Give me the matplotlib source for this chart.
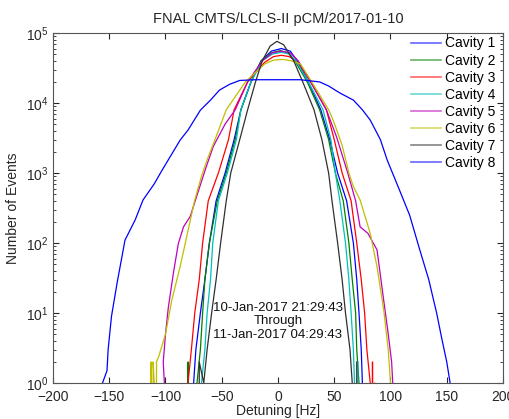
import matplotlib
matplotlib.use("Agg")
import matplotlib.pyplot as plt

plt.rcParams['font.family'] = ['Liberation Sans', 'DejaVu Sans']

# ---------------------------------------------------------------------------
# Data (detuning in Hz, number of events)
# ---------------------------------------------------------------------------
c1_x = [-75, -73, -69, -65, -61, -55, -47, -39, -33, -24, -15, -6, 3, 11, 17, 27, 38, 46, 53, 61, 67, 70, 72, 74, 75]
c1_n = [1, 3, 10, 30, 100, 400, 1000, 3000, 8000, 20000, 40000, 55000, 60000, 55000, 40000, 20000, 8000, 3000, 1000, 400, 100, 30, 10, 3, 1]

c2_x = [-82, -80, -78, -72, -69, -67, -65, -61, -54, -46, -38, -33, -24, -15, -6, 2, 9, 15, 26, 37, 45, 51, 58, 63, 66, 69, 70, 72]
c2_n = [0, 2, 0, 1, 3, 10, 30, 100, 400, 1000, 3000, 8000, 20000, 40000, 52000, 56000, 52000, 40000, 20000, 8000, 3000, 1000, 400, 100, 30, 10, 3, 1]

c3_x = [-80, -77, -74, -70, -67, -62, -53, -44, -39, -27, -12, -4, 3, 10, 18, 29, 43, 50, 57, 65, 70, 74, 77, 79, 82, 83, 84, 85, 86, 87]
c3_n = [1, 3, 10, 30, 100, 400, 1000, 3000, 8000, 20000, 38000, 46000, 48000, 46000, 38000, 20000, 8000, 3000, 1000, 400, 100, 30, 10, 3, 1, 0, 2, 0, 1, 0]

c4_x = [-68, -65, -63, -60, -58, -53, -45, -37, -33, -24, -14, -5, 3, 10, 16, 27, 40, 47, 51, 55, 60, 63, 65, 67, 68, 70, 71]
c4_n = [1, 3, 10, 30, 100, 400, 1000, 3000, 8000, 20000, 40000, 50000, 53000, 50000, 40000, 20000, 8000, 3000, 1000, 400, 100, 30, 10, 3, 1, 0, 2]

c5_x = [-101, -102, -100, -97.5, -93, -88.6, -84, -78, -72, -64, -57.5, -47, -38, -27, -14, -5, 3, 11, 18, 29, 43, 52, 62, 69, 73, 80, 88, 94, 98, 101, 102]
c5_n = [1, 2, 5, 12, 37, 98, 170, 240, 480, 1200, 2400, 5000, 8000, 20000, 40000, 52000, 55000, 52000, 40000, 20000, 8000, 3300, 1000, 400, 170, 137, 80, 15, 5, 2, 1]

c6_x = [-114, -113, -112, -111, -110, -109, -108, -106, -100, -94.5, -87, -80, -74, -68, -63, -56, -46, -29, -12, -4, 4, 12, 20, 30, 45, 49, 57, 63, 67, 73, 82, 88, 94, 98, 100]
c6_n = [0, 2, 0, 2, 1, 0, 2, 2.4, 5, 15, 46, 150, 411, 900, 1540, 3000, 8000, 20000, 36000, 41000, 42000, 40000, 36000, 20000, 8000, 5700, 2500, 1000, 640, 411, 137, 46, 11, 3, 1]

c7_x = [-72, -70, -66, -63, -59, -55, -51, -46, -42, -34, -27, -20, -14, -7, -1, 5, 14, 22, 32, 39, 45, 48, 53, 57, 60, 64, 66, 68, 70]
c7_n = [0, 2, 1, 3, 10, 30, 100, 400, 1000, 3000, 8000, 20000, 40000, 65000, 76000, 68000, 40000, 20000, 8000, 3000, 1000, 400, 100, 30, 10, 3, 1, 0, 2]

c8_x = [-157, -156, -152, -151, -148, -143, -136, -127, -120, -110, -103, -95, -87, -80, -69, -60, -52, -43, -34, -20, 0, 20, 37, 45, 55, 67, 75, 82, 91, 97, 108, 117, 126, 134, 141, 146, 150, 153, 155]
c8_n = [0, 1, 1.5, 3, 9, 27, 110, 213, 411, 700, 1100, 1800, 2950, 4100, 7900, 11000, 15300, 18500, 21000, 21500, 21500, 21500, 20000, 17500, 13900, 11000, 8000, 5700, 3000, 1540, 570, 250, 80, 30, 10, 4, 2, 1, 0]

CAVITIES = [
    ("Cavity 1", c1_x, c1_n, "#0000ff"),
    ("Cavity 2", c2_x, c2_n, "#008000"),
    ("Cavity 3", c3_x, c3_n, "#ff0000"),
    ("Cavity 4", c4_x, c4_n, "#00bfbf"),
    ("Cavity 5", c5_x, c5_n, "#bf00bf"),
    ("Cavity 6", c6_x, c6_n, "#bfbf00"),
    ("Cavity 7", c7_x, c7_n, "#303030"),
    ("Cavity 8", c8_x, c8_n, "#0000ff"),
]

TITLE = "FNAL CMTS/LCLS-II pCM/2017-01-10"
TIME_LINES = ["10-Jan-2017 21:29:43", "Through", "11-Jan-2017 04:29:43"]
TIME_Y = [11.8, 7.6, 4.9]


fig = plt.figure(figsize=(5.10, 4.19), dpi=100)
ax = fig.add_axes([53 / 510, 36 / 419, 450 / 510, 350 / 419])

for label, xs, ns, color in CAVITIES:
    ax.plot(xs, ns, color=color, linewidth=0.9, label=label)

ax.set_yscale("log")
ax.set_xlim(-200, 200)
ax.set_ylim(1, 1e5)
ax.set_xticks(range(-200, 201, 50))

ax.tick_params(axis="both", which="both", direction="in", top=True, right=True,
               labelsize=10, colors="#262626")
ax.tick_params(which="major", length=4)
ax.tick_params(which="minor", length=2)
ax.tick_params(axis="x", pad=5)
for s in ax.spines.values():
    s.set_color("#555555")
    s.set_linewidth(0.8)

ax.set_title(TITLE, fontsize=10.5, color="#262626", pad=7)
ax.set_xlabel("Detuning [Hz]", fontsize=10, color="#262626", labelpad=0)
ax.set_ylabel("Number of Events", fontsize=10, color="#262626", labelpad=4)

for txt, yv in zip(TIME_LINES, TIME_Y):
    ax.text(0, yv, txt, ha="center", va="center", fontsize=9.5, color="#111111")

leg = ax.legend(loc="upper left", bbox_to_anchor=(0.795, 0.99), frameon=False,
                fontsize=10, handlelength=2.2, handletextpad=0.3,
                labelspacing=0.22, borderpad=0, borderaxespad=0)
for h in leg.get_lines():
    h.set_linewidth(1.2)
    h.set_alpha(0.6)

fig.savefig("out.png", dpi=100)
